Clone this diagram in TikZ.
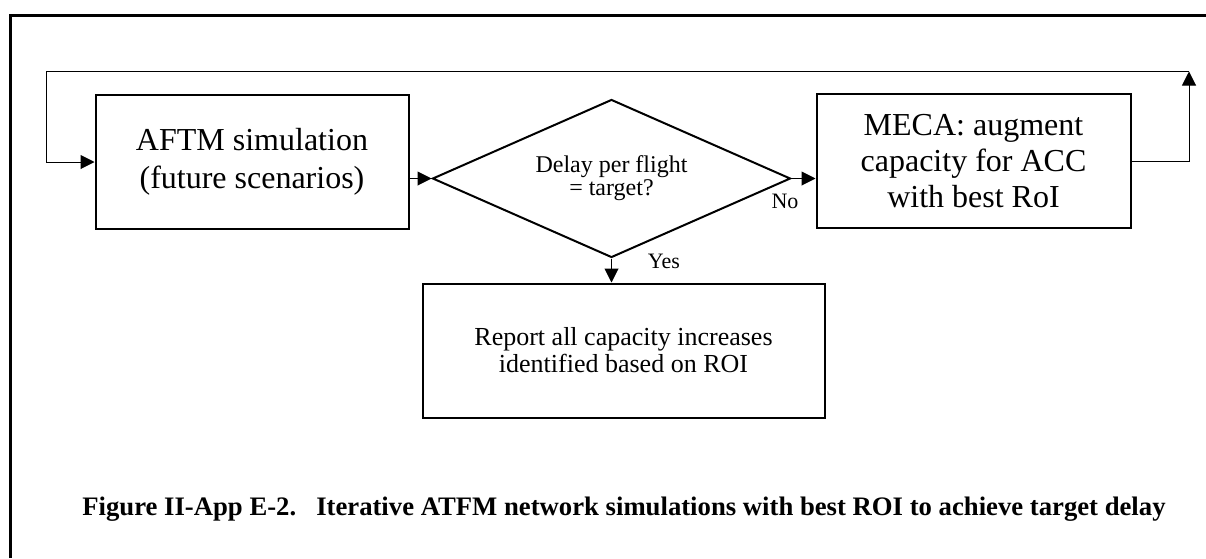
\documentclass[tikz,border=0pt]{standalone}
\usepackage{fontspec}
\setmainfont{Liberation Serif}
\usepackage{tikz}
\usetikzlibrary{arrows.meta, shapes.geometric}

\begin{document}
\begin{tikzpicture}[x=0.5pt, y=-0.5pt,
        box/.style={draw, line width=1pt, align=center, inner sep=0pt, minimum width=#1*0.5pt, minimum height=67pt},
        test/.style={draw, diamond, aspect=2.26, line width=1pt, align=center, inner sep=0pt,
            minimum width=179pt, minimum height=79pt, font=\fontsize{12}{10}\selectfont},
        lbl/.style={anchor=base, font=\fontsize{11}{13}\selectfont},
        flow/.style={line width=0.5pt, -{Triangle[length=7pt, width=7pt]}}]
        \useasboundingbox (0,0) rectangle (1206,558);
        \draw[line width=1.5pt] (10,558) -- (10,15.5) -- (1206,15.5);
        \node[box=313, font=\fontsize{16}{19}\selectfont] (aftm) at (252,162) {AFTM simulation\\(future scenarios)};
        \node[test] (dec) at (611.5,178.5) {Delay per flight\\= target?};
        \node[box=314, font=\fontsize{16}{18}\selectfont] (meca) at (973.5,161) {MECA: augment\\capacity for ACC\\with best RoI};
        \node[box=402, font=\fontsize{13}{13.5}\selectfont] (report) at (623.5,350.5) {Report all capacity increases\\identified based on ROI};
        \coordinate (tl) at (46,71.5);
        \coordinate (tr) at (1189,71.5);
        \draw[flow] (aftm.east |- dec.west) -- (dec.west);
        \draw[flow] (dec.east) -- (dec.east -| meca.west);
        \draw[flow] (dec.south) -- (dec.south |- report.north);
        \draw[flow] (meca.east) -| (tr);
        \draw[flow] (tr) -- (tl) |- (aftm.west);
        \node[lbl] (no) at (785,208) {No};
        \node[lbl] (yes) at (664,268) {Yes};
        \node[anchor=base west, inner sep=0pt, font=\bfseries\fontsize{13.35}{16}\selectfont] (caption) at (82,515)
            {Figure II-App E-2.\ \ \ Iterative ATFM network simulations with best ROI to achieve target delay};
\end{tikzpicture}
\end{document}
